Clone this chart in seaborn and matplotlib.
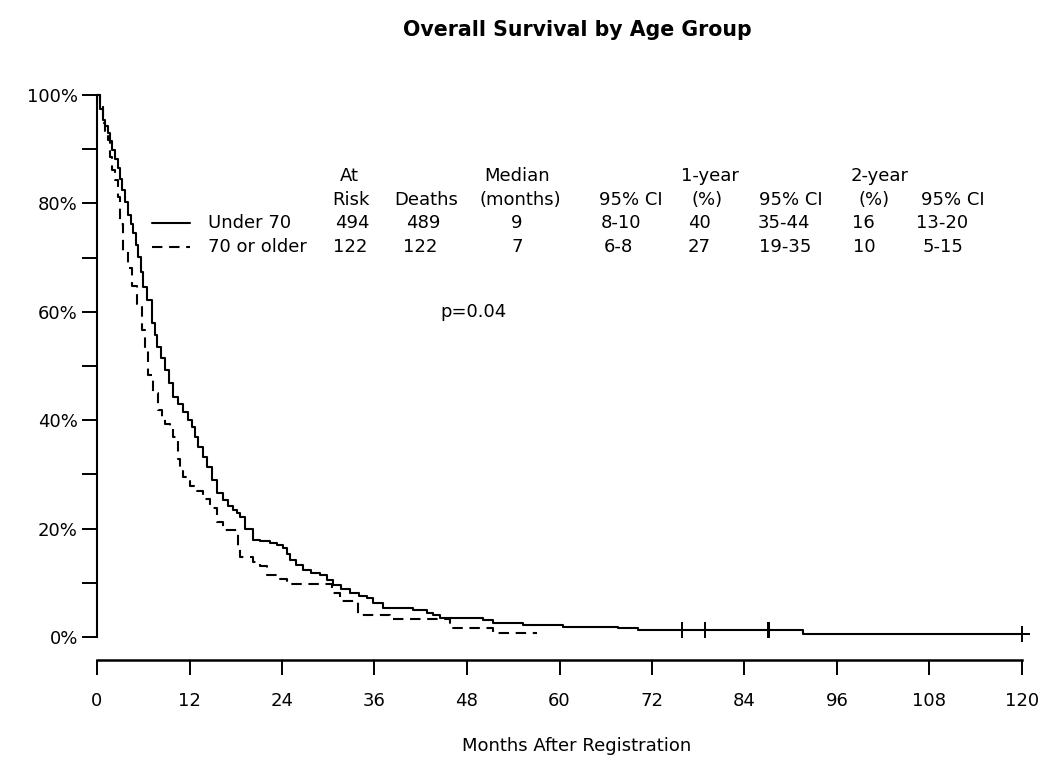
import numpy as np
import pandas as pd
import matplotlib
matplotlib.use("Agg")
import matplotlib.pyplot as plt
import seaborn as sns
from matplotlib.lines import Line2D

# ---------------- data ----------------
groups = ["Under 70", "70 or older"]

# Kaplan-Meier step points (months, survival %)
under70_t = [0, 0.4, 0.8, 1.1, 1.4, 1.7, 1.9, 2.3, 2.7, 3.0, 3.2, 3.6, 4.0, 4.4, 4.7,
             5.0, 5.3, 5.7, 6.0, 6.5, 7.1, 7.5, 7.8, 8.3, 8.8, 9.3, 9.9, 10.5, 11.2,
             11.8, 12.3, 12.7, 13.1, 13.7, 14.3, 14.9, 15.6, 16.3, 17.0, 17.6, 18.2,
             18.6, 19.2, 20.2, 21.1, 22.4, 23.4, 24.1, 24.6, 25.0, 25.8, 26.7, 27.8,
             28.9, 29.8, 30.6, 31.7, 32.8, 34.0, 35.0, 35.8, 37.1, 41.0, 42.8, 43.6,
             44.5, 50.1, 51.4, 55.3, 60.5, 67.6, 70.2, 91.6, 120.0]
under70_s = [100, 97.5, 95.4, 94.2, 93.0, 91.5, 89.9, 88.2, 86.5, 84.5, 82.5, 80.2, 77.9,
             76.2, 74.5, 72.3, 70.1, 67.4, 64.6, 62.2, 57.9, 55.8, 53.5, 51.4, 49.3, 46.8,
             44.3, 42.9, 41.5, 40.1, 38.7, 36.9, 35.0, 33.2, 31.4, 29.0, 26.6, 25.3, 24.2,
             23.5, 22.9, 22.1, 20.0, 17.9, 17.7, 17.3, 16.9, 16.4, 15.3, 14.2, 13.3, 12.4,
             11.9, 11.4, 10.5, 9.6, 8.9, 8.1, 7.6, 7.2, 6.3, 5.4, 5.0, 4.4, 4.0, 3.5, 3.1,
             2.6, 2.3, 1.9, 1.6, 1.3, 0.6, 0.6]

older70_t = [0, 0.4, 0.8, 1.1, 1.4, 1.7, 2.0, 2.3, 2.7, 3.0, 3.4, 4.0, 4.5, 5.2, 5.8, 6.2,
             6.6, 7.3, 7.9, 8.4, 8.8, 9.5, 9.9, 10.5, 10.8, 11.2, 11.7, 12.0, 13.0, 13.8,
             14.7, 15.6, 16.3, 18.3, 18.6, 20.2, 21.1, 22.0, 23.5, 24.6, 30.5, 31.5, 33.9,
             38.0, 45.8, 51.4, 57.1]
older70_s = [100, 98.4, 94.8, 93.4, 91.7, 88.5, 86.1, 84.4, 81.1, 76.2, 71.3, 68.0, 64.8,
             61.5, 56.6, 53.3, 48.4, 45.1, 41.8, 40.2, 39.3, 38.5, 36.9, 32.8, 31.1, 29.5,
             28.7, 27.9, 27.0, 25.4, 23.8, 21.3, 19.7, 16.4, 14.8, 13.9, 13.1, 11.5, 10.7,
             9.8, 8.2, 6.6, 4.1, 3.3, 1.6, 0.8, 0.8]

# censored observations (months) on the Under 70 curve
under70_censor = [75.9, 78.9, 87.0, 87.1, 87.2, 120.0]

# summary table
header1 = ["At", "Median", "1-year", "2-year"]
header2 = ["Risk", "Deaths", "(months)", "95% CI", "(%)", "95% CI", "(%)", "95% CI"]
row_under70 = ["494", "489", "9", "8-10", "40", "35-44", "16", "13-20"]
row_older70 = ["122", "122", "7", "6-8", "27", "19-35", "10", "5-15"]
p_text = "p=0.04"

x_ticks = list(range(0, 121, 12))
y_major = [0, 20, 40, 60, 80, 100]
y_minor = [10, 30, 50, 70, 90]
y_labels = ["0%", "20%", "40%", "60%", "80%", "100%"]

title = "Overall Survival by Age Group"
xlabel = "Months After Registration"

# ---------------- layout (pixels of a 1050x774 canvas) ----------------
W, H = 1050, 774
h1_x = [349, 517, 710, 880]
h2_x = [351, 426, 520, 631, 707, 791, 874, 953]
r1_x = [352, 423, 517, 621, 699, 784, 863, 942]
r2_x = [350, 420, 517, 618, 699, 785, 864, 943]
row_y = [176, 200, 223, 247]

sns.set_theme(style="ticks")
plt.rcParams["font.family"] = ["DejaVu Sans"]
plt.rcParams["text.color"] = "black"

fig = plt.figure(figsize=(W / 100, H / 100), dpi=100)
ax = fig.add_axes([97 / W, (H - 637) / H, 925 / W, 542 / H])

df = pd.concat([
    pd.DataFrame({"months": under70_t, "surv": under70_s, "group": groups[0]}),
    pd.DataFrame({"months": older70_t, "surv": older70_s, "group": groups[1]}),
])

lw = 1.5
dash = (0, (5, 3.2))
sns.lineplot(data=df[df.group == groups[0]], x="months", y="surv", ax=ax,
             color="black", lw=lw, drawstyle="steps-post", estimator=None,
             legend=False, clip_on=False)
sns.lineplot(data=df[df.group == groups[1]], x="months", y="surv", ax=ax,
             color="black", lw=lw, drawstyle="steps-post", estimator=None,
             legend=False, linestyle=dash, clip_on=False)

# censor marks placed on the step function
ut = np.array(under70_t)
us = np.array(under70_s)
cens_t = np.array(under70_censor)
idx = np.searchsorted(ut, cens_t, side="right") - 1
ax.plot(cens_t, us[idx], linestyle="none", marker="+", color="black",
        markersize=11.5, markeredgewidth=1.4, clip_on=False)

ax.set_xlim(0, 120)
ax.set_ylim(0, 100)
ax.set_xticks(x_ticks)
ax.set_xticklabels([str(v) for v in x_ticks])
ax.set_yticks(y_major)
ax.set_yticklabels(y_labels)
ax.set_yticks(y_minor, minor=True)
ax.set_xlabel("")
ax.set_ylabel("")

for s in ["top", "right"]:
    ax.spines[s].set_visible(False)
ax.spines["left"].set_linewidth(1.5)
ax.spines["bottom"].set_linewidth(1.8)
ax.spines["bottom"].set_position(("outward", 16.6))
ax.spines["bottom"].set_bounds(0, 120)
ax.spines["left"].set_bounds(0, 100)
for s in ["left", "bottom"]:
    ax.spines[s].set_color("black")

ax.tick_params(axis="y", which="both", length=10.8, width=1.4, direction="out",
               pad=3, labelsize=13, colors="black")
ax.tick_params(axis="x", which="both", length=10.8, width=1.4, direction="out",
               pad=12, labelsize=13, colors="black")


def ftext(x, y, s, size=13, **kw):
    fig.text(x / W, 1 - y / H, s, va="center", fontsize=size, color="black", **kw)


ftext(577, 30, title, size=14.8, ha="center", fontweight="bold")
ftext(577, 746, xlabel, ha="center")

for x, s in zip(h1_x, header1):
    ftext(x, row_y[0], s, ha="center")
for x, s in zip(h2_x, header2):
    ftext(x, row_y[1], s, ha="center")
for x, s in zip(r1_x, row_under70):
    ftext(x, row_y[2], s, ha="center")
for x, s in zip(r2_x, row_older70):
    ftext(x, row_y[3], s, ha="center")
ftext(208, row_y[2], groups[0], ha="left")
ftext(208, row_y[3], groups[1], ha="left")

# legend line samples
fig.add_artist(Line2D([152 / W, 190 / W], [1 - row_y[2] / H] * 2, color="black", lw=lw))
fig.add_artist(Line2D([152 / W, 190 / W], [1 - row_y[3] / H] * 2, color="black", lw=lw,
                      linestyle=dash))

ftext(473, 312, p_text, ha="center")

fig.savefig("out.png", dpi=100, facecolor="white")
